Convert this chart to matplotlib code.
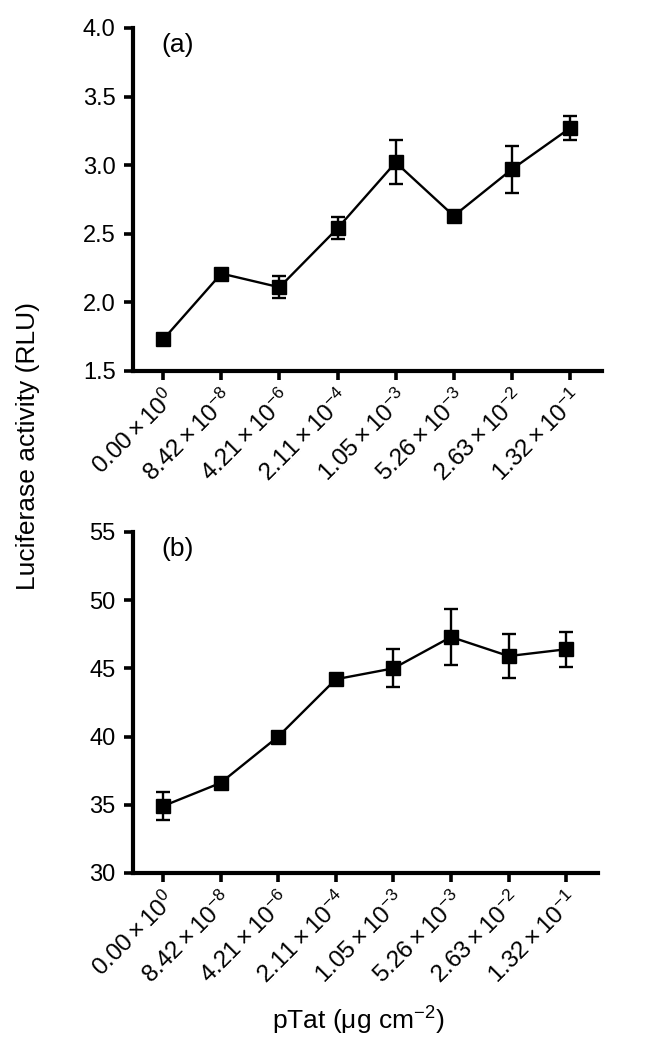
import numpy as np
import matplotlib
matplotlib.use('Agg')
import matplotlib.pyplot as plt

plt.rcParams['font.family'] = ['Liberation Sans', 'DejaVu Sans']
plt.rcParams['mathtext.fontset'] = 'custom'
plt.rcParams['mathtext.rm'] = 'Liberation Sans'
plt.rcParams['mathtext.it'] = 'Liberation Sans:italic'

# Data
doses = [r'$\mathrm{0.00\times10^{0}}$', r'$\mathrm{8.42\times10^{-8}}$',
         r'$\mathrm{4.21\times10^{-6}}$', r'$\mathrm{2.11\times10^{-4}}$',
         r'$\mathrm{1.05\times10^{-3}}$', r'$\mathrm{5.26\times10^{-3}}$',
         r'$\mathrm{2.63\times10^{-2}}$', r'$\mathrm{1.32\times10^{-1}}$']
a_mean = [1.73, 2.21, 2.11, 2.54, 3.02, 2.63, 2.97, 3.27]
a_err = [0.02, 0.02, 0.08, 0.08, 0.16, 0.02, 0.17, 0.09]
b_mean = [34.9, 36.6, 40.0, 44.2, 45.0, 47.3, 45.9, 46.4]
b_err = [1.0, 0.2, 0.2, 0.2, 1.4, 2.05, 1.6, 1.3]
a_ticks = ['1.5', '2.0', '2.5', '3.0', '3.5', '4.0']

fs_tick = 17
fs_lab = 19
fig = plt.figure(figsize=(6.7, 10.5), dpi=100)
ax1 = fig.add_axes([0.1985, 0.6467, 0.70, 0.3267])
ax2 = fig.add_axes([0.1985, 0.1686, 0.694, 0.3248])

x = np.arange(len(doses))


def style(ax, mean, err, ylim, yticks, tag):
    ax.errorbar(x, mean, yerr=err, color='black', lw=1.7, marker='s', ms=10,
                capsize=5, capthick=1.7, elinewidth=1.7)
    ax.set_xlim(-0.52, 7.55)
    ax.set_ylim(*ylim)
    ax.set_yticks(yticks)
    ax.set_xticks(x)
    ax.set_xticklabels(doses, rotation=45, ha='right', va='top',
                       rotation_mode='anchor', fontsize=17.5)
    for lab in ax.get_yticklabels():
        lab.set_fontsize(fs_tick)
    for s in ['top', 'right']:
        ax.spines[s].set_visible(False)
    for s in ['left', 'bottom']:
        ax.spines[s].set_linewidth(3)
    ax.tick_params(direction='out', length=6.5, width=2.6)
    ax.tick_params(axis='y', pad=6)
    ax.tick_params(axis='x', pad=4)
    ax.text(0.06, 0.95, tag, transform=ax.transAxes, fontsize=fs_lab,
            ha='left', va='center')


style(ax1, a_mean, a_err, (1.5, 4.0), [1.5, 2.0, 2.5, 3.0, 3.5, 4.0], '(a)')
ax1.set_yticklabels(a_ticks, fontsize=fs_tick)
style(ax2, b_mean, b_err, (30, 55), [30, 35, 40, 45, 50, 55], '(b)')

fig.text(0.042, 0.575, 'Luciferase activity (RLU)', rotation=90,
         ha='center', va='center', fontsize=fs_lab)
fig.text(0.535, 0.028, r'pTat ($\mathrm{\mu}$g cm$^{-2}$)',
         ha='center', va='center', fontsize=fs_lab)

fig.savefig('out.png', dpi=100)
